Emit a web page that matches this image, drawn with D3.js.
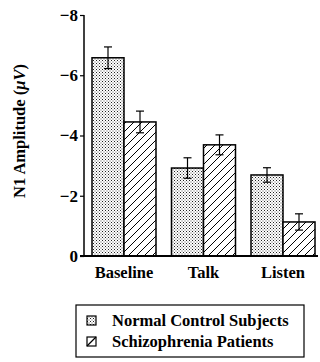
<!DOCTYPE html>
<html><head><meta charset="utf-8">
<script src="https://cdn.jsdelivr.net/npm/d3@7"></script>
<style>body{margin:0;background:#fff}svg{display:block}</style>
</head><body>
<script>
const categories = ["Baseline", "Talk", "Listen"];
const seriesNames = ["Normal Control Subjects", "Schizophrenia Patients"];
const controlValues = [-6.58, -2.92, -2.69];
const patientValues = [-4.45, -3.69, -1.13];
const controlSE = [0.36, 0.34, 0.24];
const patientSE = [0.36, 0.33, 0.27];
const yTicks = [0, -2, -4, -6, -8];

const FONT = "'Liberation Serif','Times New Roman',Times,serif";
const W = 320, H = 362;
const svg = d3.select("body").append("svg").attr("width", W).attr("height", H)
  .attr("font-family", FONT).attr("font-weight", "bold");
const defs = svg.append("defs");
const dots = defs.append("pattern").attr("id","dots").attr("patternUnits","userSpaceOnUse").attr("width",3).attr("height",3);
dots.append("rect").attr("width",3).attr("height",3).attr("fill","#fff");
dots.append("rect").attr("x",0).attr("y",0).attr("width",1).attr("height",1).attr("fill","#222");
dots.append("rect").attr("x",1.5).attr("y",1.5).attr("width",1).attr("height",1).attr("fill","#555");
const hatch = defs.append("pattern").attr("id","hatch").attr("patternUnits","userSpaceOnUse").attr("width",8).attr("height",8);
hatch.append("rect").attr("width",8).attr("height",8).attr("fill","#fff");
hatch.append("path").attr("d","M-2,2 L2,-2 M0,8 L8,0 M6,10 L10,6").attr("stroke","#000").attr("stroke-width",1);

const x0 = 84, yZero = 256, yTop = 15;
const y = d3.scaleLinear().domain([0, -8]).range([yZero, yTop]);
const xBand = d3.scaleBand().domain(categories).range([92, 315]).paddingInner(0.195).paddingOuter(0);
const xSub = d3.scaleBand().domain([0,1]).range([0, xBand.bandwidth()]);

const data = [];
categories.forEach((c,i)=>{
  data.push({c, s:0, v:controlValues[i], se:controlSE[i]});
  data.push({c, s:1, v:patientValues[i], se:patientSE[i]});
});

svg.selectAll("rect.bar").data(data).enter().append("rect")
  .attr("x", d=>xBand(d.c)+xSub(d.s))
  .attr("y", d=>y(d.v))
  .attr("width", xSub.bandwidth())
  .attr("height", d=>yZero - y(d.v))
  .attr("fill", d=>d.s===0?"url(#dots)":"url(#hatch)")
  .attr("stroke","#000").attr("stroke-width",1.5);

const eb = svg.append("g").attr("stroke","#000").attr("stroke-width",1.2);
data.forEach(d=>{
  const cx = xBand(d.c)+xSub(d.s)+xSub.bandwidth()/2;
  const t = y(d.v - d.se), b = y(d.v + d.se);
  eb.append("line").attr("x1",cx).attr("x2",cx).attr("y1",t).attr("y2",b);
  eb.append("line").attr("x1",cx-4).attr("x2",cx+4).attr("y1",t).attr("y2",t);
  eb.append("line").attr("x1",cx-4).attr("x2",cx+4).attr("y1",b).attr("y2",b);
});

// axes
const yAxis = d3.axisLeft(y).tickValues(yTicks).tickFormat(d=>d===0?"0":d3.format("d")(d)).tickSize(4).tickPadding(2);
const ga = svg.append("g").attr("transform",`translate(${x0},0)`).call(yAxis);
ga.attr("font-family", FONT).attr("font-size", 17).attr("font-weight","bold");
ga.select(".domain").remove();
ga.selectAll("line").attr("stroke","#000").attr("stroke-width",1.2);
ga.selectAll("text").attr("fill","#000");
svg.append("line").attr("x1",x0).attr("x2",x0).attr("y1",yTop).attr("y2",yZero).attr("stroke","#000").attr("stroke-width",1.5);
svg.append("line").attr("x1",x0-4).attr("x2",318).attr("y1",yZero).attr("y2",yZero).attr("stroke","#000").attr("stroke-width",2);

svg.selectAll("text.cat").data(categories).enter().append("text")
  .attr("x", d=>xBand(d)+xBand.bandwidth()/2).attr("y", 278)
  .attr("text-anchor","middle").attr("font-size",16.5).text(d=>d);

const yt = svg.append("text").attr("transform","translate(25,131) rotate(-90)").attr("text-anchor","middle").attr("font-size",16.5);
yt.append("tspan").text("N1 Amplitude (");
yt.append("tspan").attr("font-style","italic").text("μV");
yt.append("tspan").text(")");

// legend
const lg = svg.append("g");
lg.append("rect").attr("x",76).attr("y",305).attr("width",228).attr("height",52).attr("fill","none").attr("stroke","#000").attr("stroke-width",1.2);
seriesNames.forEach((n,i)=>{
  const yy = 316 + i*21;
  lg.append("rect").attr("x",87).attr("y",yy).attr("width",9).attr("height",9)
    .attr("fill", i===0?"url(#dots)":"#fff").attr("stroke","#000").attr("stroke-width",1.2);
  if(i===1) lg.append("line").attr("x1",87).attr("y1",yy+9).attr("x2",96).attr("y2",yy).attr("stroke","#000").attr("stroke-width",1.2);
  lg.append("text").attr("x",112).attr("y",yy+10).attr("font-size",16.5).text(n);
});
</script>
</body></html>
